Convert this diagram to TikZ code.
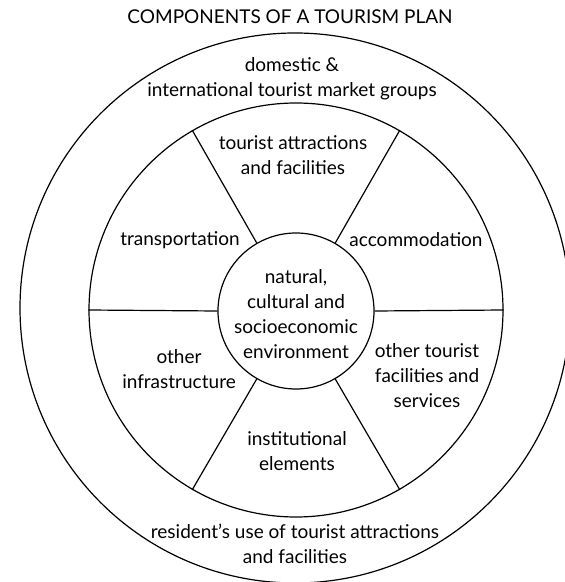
\documentclass[tikz,border=0pt]{standalone}
\usepackage{fontspec}
\setmainfont{Lato}
\begin{document}
\begin{tikzpicture}
    [x=0.5pt,y=-0.5pt,
     ring/.style={draw,circle,inner sep=0pt,line width=0.6pt},
     lbl/.style={align=center,inner sep=0pt,
       font=\fontsize{9.5}{12.5}\selectfont}]
        \useasboundingbox
          (0,0) rectangle (565,582)
        ;
        \node [lbl] (title) at (290,17) {COMPONENTS OF A TOURISM PLAN};
        \node [ring,minimum size=275pt] (market) at (295,308) {};
        \node [ring,minimum size=207pt] (plan) at (296,310) {};
        \node [ring,minimum size=78pt] (environment) at (296,311) {};
        \foreach \a in {0,60,...,300}
          \draw [line width=0.6pt]
            (environment.\a) -- (plan.\a)
          ;
        \node [lbl] (groups) at (292,79)
          {domestic \&\\international tourist market groups};
        \node [lbl] (attractions) at (293,155)
          {tourist attractions\\and facilities};
        \node [lbl] (transportation) at (180,240) {transportation};
        \node [lbl] (accommodation) at (416,240) {accommodation};
        \node [lbl] (nature) at (296,314)
          {natural,\\cultural and\\socioeconomic\\environment};
        \node [lbl] (infrastructure) at (179,369) {other\\infrastructure};
        \node [lbl] (services) at (427,376)
          {other tourist\\facilities and\\services};
        \node [lbl] (institutions) at (297,451) {institutional\\elements};
        \node [lbl] (residents) at (295,544)
          {resident's use of tourist attractions\\and facilities};
\end{tikzpicture}
\end{document}
